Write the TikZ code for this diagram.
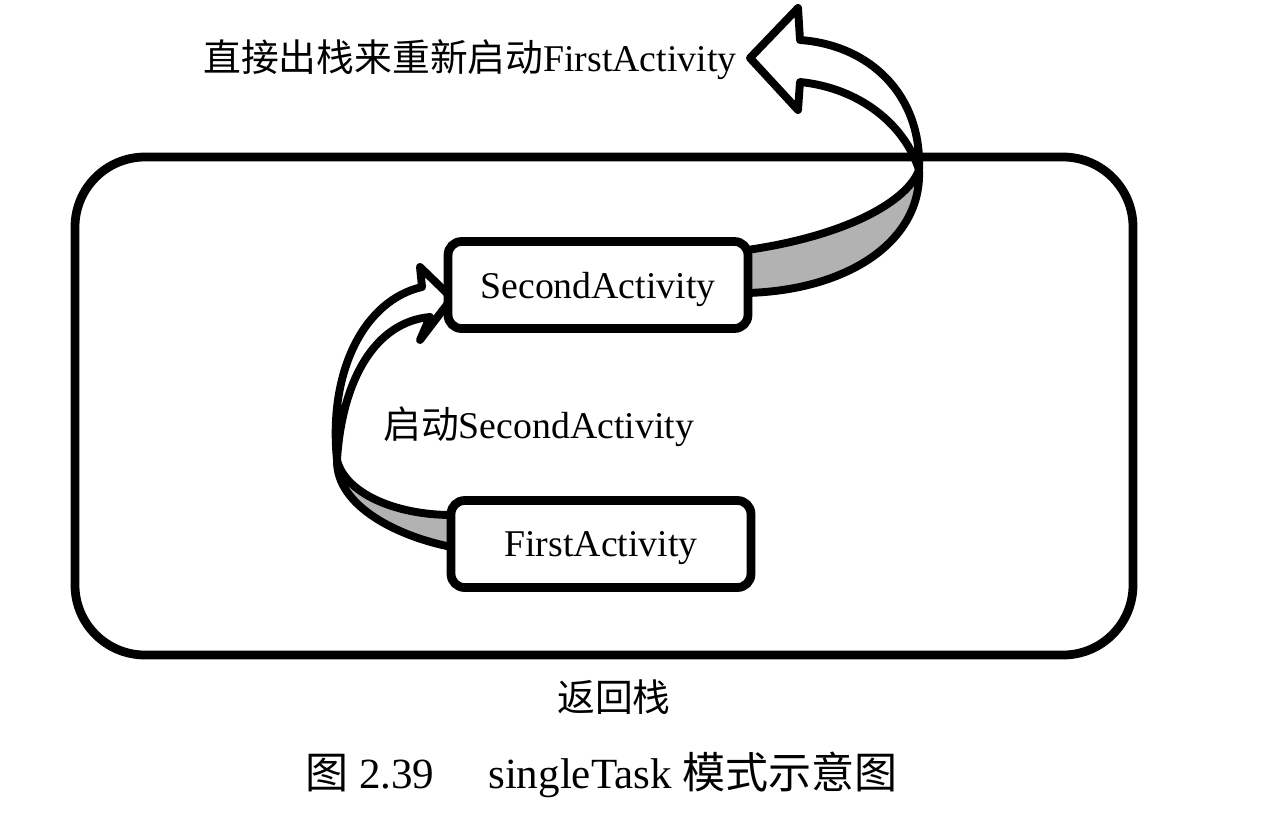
\documentclass[tikz,border=0pt]{standalone}
\usepackage{fontspec}
\setmainfont{Liberation Serif}
\newfontfamily\cjk{Noto Sans CJK SC}
\usetikzlibrary{calc,backgrounds}
\tikzset{
	actbox/.style={draw, line width=5pt, rounded corners=0.27cm, fill=white, minimum width=6cm, minimum height=1.74cm, text depth=0pt},
	band/.style={draw, line width=4.5pt, line join=round},
}
\begin{document}
\begin{tikzpicture}[x=0.02cm, y=-0.02cm, inner sep=0pt, font=\fontsize{21.5pt}{26pt}\selectfont]
		\useasboundingbox (0,0) rectangle (1284,835);
		\node[actbox, name=second]at(598,285){SecondActivity};
		\node[actbox, name=first]at(601,544){FirstActivity};
		\begin{scope}[on background layer]
		\draw[line width=5pt, rounded corners=1.4cm] (75,157) rectangle (1133,655);
		% launch arrow
		\coordinate (lm) at (337,460);
		\draw[band, fill=black!30] ($(first.west)+(5,3)$) .. controls (400,537) and (336,507) .. (lm)
			.. controls (345,493) and (395,515) .. ($(first.west)+(5,-29)$) -- cycle;
		\draw[band, fill=white] (lm) .. controls (328,370) and (365,300) .. (422,287) -- (420,267) -- (452,298)
			-- (420,340) -- (430,317) .. controls (375,322) and (342,380) .. (lm) -- cycle;
		% restart arrow
		\coordinate (rm) at (919,170);
		\draw[band, fill=black!30] ($(second.east)+(-5,8)$) .. controls (850,290) and (922,240) .. (rm)
			.. controls (908,200) and (850,235) .. ($(second.east)+(-5,-35)$) -- cycle;
		\draw[band, fill=white] (rm) .. controls (922,95) and (870,45) .. (800,40) -- (798,8) -- (750,58)
			-- (798,110) -- (800,82) .. controls (860,88) and (905,125) .. (rm) -- cycle;
		\end{scope}
		\node[anchor=west, name=restart]at(203,60){{\cjk 直接出栈来重新启动}FirstActivity};
		\node[anchor=west, name=launch]at(383,427){{\cjk 启动}SecondActivity};
		\node[name=stack]at(614,697){\cjk 返回栈};
		\node[anchor=west, name=caption, font=\fontsize{24.5pt}{29pt}\selectfont]at(305,775){{\cjk 图} 2.39\hspace{1.25em}singleTask {\cjk 模式示意图}};
	\end{tikzpicture}
\end{document}
